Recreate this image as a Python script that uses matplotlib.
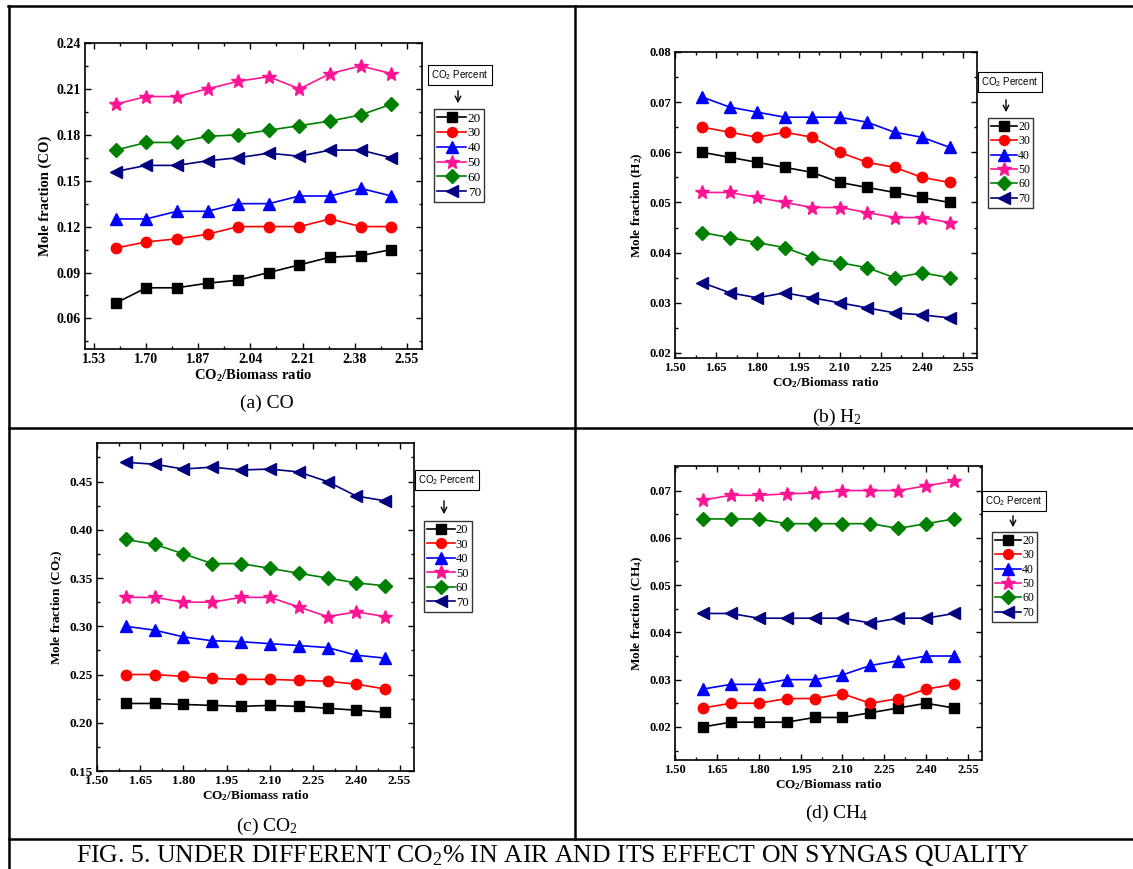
import matplotlib
matplotlib.use("Agg")
import matplotlib.pyplot as plt
from matplotlib.lines import Line2D
from matplotlib.ticker import AutoMinorLocator, FormatStrFormatter

plt.rcParams["font.family"] = ["Liberation Serif", "DejaVu Serif"]
plt.rcParams["mathtext.default"] = "regular"

W, H = 1133, 869

# ---- data ----
ratio = [1.6, 1.7, 1.8, 1.9, 2.0, 2.1, 2.2, 2.3, 2.4, 2.5]
co2_percent = ["20", "30", "40", "50", "60", "70"]

co = [
    [0.070, 0.080, 0.080, 0.083, 0.085, 0.090, 0.095, 0.100, 0.101, 0.105],
    [0.106, 0.110, 0.112, 0.115, 0.120, 0.120, 0.120, 0.125, 0.120, 0.120],
    [0.125, 0.125, 0.130, 0.130, 0.135, 0.135, 0.140, 0.140, 0.145, 0.140],
    [0.200, 0.205, 0.205, 0.210, 0.215, 0.218, 0.210, 0.220, 0.225, 0.220],
    [0.170, 0.175, 0.175, 0.179, 0.180, 0.183, 0.186, 0.189, 0.193, 0.200],
    [0.156, 0.160, 0.160, 0.163, 0.165, 0.168, 0.166, 0.170, 0.170, 0.165],
]
h2 = [
    [0.060, 0.059, 0.058, 0.057, 0.056, 0.054, 0.053, 0.052, 0.051, 0.050],
    [0.065, 0.064, 0.063, 0.064, 0.063, 0.060, 0.058, 0.057, 0.055, 0.054],
    [0.071, 0.069, 0.068, 0.067, 0.067, 0.067, 0.066, 0.064, 0.063, 0.061],
    [0.052, 0.052, 0.051, 0.050, 0.049, 0.049, 0.048, 0.047, 0.047, 0.046],
    [0.044, 0.043, 0.042, 0.041, 0.039, 0.038, 0.037, 0.035, 0.036, 0.035],
    [0.034, 0.032, 0.031, 0.032, 0.031, 0.030, 0.029, 0.028, 0.0276, 0.027],
]
co2 = [
    [0.220, 0.220, 0.219, 0.218, 0.217, 0.218, 0.217, 0.215, 0.213, 0.211],
    [0.250, 0.250, 0.248, 0.246, 0.245, 0.245, 0.244, 0.243, 0.240, 0.235],
    [0.300, 0.296, 0.289, 0.285, 0.284, 0.282, 0.280, 0.278, 0.270, 0.267],
    [0.330, 0.330, 0.325, 0.325, 0.330, 0.330, 0.320, 0.310, 0.315, 0.310],
    [0.390, 0.385, 0.375, 0.365, 0.365, 0.360, 0.355, 0.350, 0.345, 0.342],
    [0.470, 0.468, 0.463, 0.465, 0.462, 0.463, 0.460, 0.450, 0.435, 0.430],
]
ch4 = [
    [0.020, 0.021, 0.021, 0.021, 0.022, 0.022, 0.023, 0.024, 0.025, 0.024],
    [0.024, 0.025, 0.025, 0.026, 0.026, 0.027, 0.025, 0.026, 0.028, 0.029],
    [0.028, 0.029, 0.029, 0.030, 0.030, 0.031, 0.033, 0.034, 0.035, 0.035],
    [0.068, 0.069, 0.069, 0.0693, 0.0695, 0.070, 0.070, 0.070, 0.071, 0.072],
    [0.064, 0.064, 0.064, 0.063, 0.063, 0.063, 0.063, 0.062, 0.063, 0.064],
    [0.044, 0.044, 0.043, 0.043, 0.043, 0.043, 0.042, 0.043, 0.043, 0.044],
]

xticks_a = [1.53, 1.70, 1.87, 2.04, 2.21, 2.38, 2.55]
xticks_bcd = [1.50, 1.65, 1.80, 1.95, 2.10, 2.25, 2.40, 2.55]
yticks_a = [0.06, 0.09, 0.12, 0.15, 0.18, 0.21, 0.24]
yticks_b = [0.02, 0.03, 0.04, 0.05, 0.06, 0.07, 0.08]
yticks_c = [0.15, 0.20, 0.25, 0.30, 0.35, 0.40, 0.45]
yticks_d = [0.02, 0.03, 0.04, 0.05, 0.06, 0.07]

colors = ["black", "#FF0000", "#0000FF", "#FF1493", "#008000", "#000080"]
markers = ["s", "o", "^", "*", "D", "<"]
msizes = [7, 7.5, 8.5, 10.5, 7.5, 8.5]


def fx(x):
    return x / W


def fy(y):
    return 1 - y / H


def box(x0, y0, x1, y1):
    return [fx(x0), fy(y1), (x1 - x0) / W, (y1 - y0) / H]


fig = plt.figure(figsize=(W / 100, H / 100), dpi=100)

panels = [
    # data, axes box px, xticks, yticks, ylim, ylabel, tick size, label size,
    # legend top-left px, legend font, title box centre px, arrow px, caption
    (co, box(85, 43, 422, 349), xticks_a, yticks_a, (0.04, 0.24),
     "Mole fraction (CO)", 10, 10.5, (434, 109), 9.5, (460, 75), (458, 88, 106),
     (267, 403), "(a) CO"),
    (h2, box(675, 52, 977, 358), xticks_bcd, yticks_b, (0.019, 0.08),
     "Mole fraction (H$_2$)", 9, 9.5, (988, 118), 8.5, (1010, 82), (1006, 97, 115),
     (837, 417), "(b) H$_2$"),
    (co2, box(97, 443, 414, 771), xticks_bcd, yticks_c, (0.15, 0.49),
     "Mole fraction (CO$_2$)", 9.5, 9.5, (424, 521), 9, (447, 480), (444, 498, 517),
     (267, 826), "(c) CO$_2$"),
    (ch4, box(675, 466, 982, 760), xticks_bcd, yticks_d, (0.013, 0.0752),
     "Mole fraction (CH$_4$)", 9, 9.5, (992, 532), 8.5, (1014, 501), (1013, 513, 530),
     (837, 813), "(d) CH$_4$"),
]

for (data, rect, xt, yt, ylim, ylab, tsz, lsz, leg_xy, lfs, tb_xy, arr,
     cap_xy, cap) in panels:
    ax = fig.add_axes(rect)
    for i, series in enumerate(data):
        ax.plot(ratio, series, color=colors[i], marker=markers[i], ms=msizes[i],
                mec=colors[i], lw=1.2, label=co2_percent[i])
    ax.set_xlim(1.5, 2.6)
    ax.set_ylim(*ylim)
    ax.set_xticks(xt)
    ax.set_yticks(yt)
    ax.xaxis.set_major_formatter(FormatStrFormatter("%.2f"))
    ax.yaxis.set_major_formatter(FormatStrFormatter("%.2f"))
    ax.xaxis.set_minor_locator(AutoMinorLocator(2))
    ax.yaxis.set_minor_locator(AutoMinorLocator(2))
    ax.tick_params(which="both", direction="in", top=True, right=True, width=1)
    ax.tick_params(which="major", length=4, labelsize=tsz, pad=3)
    ax.tick_params(which="minor", length=2.5)
    for lab in ax.get_xticklabels() + ax.get_yticklabels():
        lab.set_fontweight("bold")
    for s in ax.spines.values():
        s.set_linewidth(1.2)
    ax.set_xlabel("CO$_2$/Biomass ratio", fontsize=lsz, fontweight="bold", labelpad=1)
    ax.set_ylabel(ylab, fontsize=lsz, fontweight="bold", labelpad=3)

    leg = ax.legend(loc="upper left", bbox_to_anchor=(fx(leg_xy[0]), fy(leg_xy[1])),
                    bbox_transform=fig.transFigure, borderaxespad=0, fontsize=lfs,
                    frameon=True, fancybox=False, edgecolor="black", numpoints=1,
                    handlelength=2.2, handletextpad=0.1, labelspacing=0.2,
                    borderpad=0.25, markerscale=0.95)
    leg.get_frame().set_linewidth(1.0)

    fig.text(fx(tb_xy[0]), fy(tb_xy[1]), "CO$_2$ Percent", ha="center", va="center",
             fontsize=7, family=["Liberation Sans", "DejaVu Sans"],
             bbox=dict(boxstyle="square,pad=0.35", fc="white", ec="black", lw=0.8))
    ax.annotate("", xy=(fx(arr[0]), fy(arr[2])), xytext=(fx(arr[0]), fy(arr[1])),
                xycoords="figure fraction", textcoords="figure fraction",
                arrowprops=dict(arrowstyle="->", color="black", lw=1.0))

    fig.text(fx(cap_xy[0]), fy(cap_xy[1]), cap, ha="center", va="center", fontsize=14)

fig.text(fx(553), fy(855),
         "FIG. 5. UNDER DIFFERENT CO$_2$% IN AIR AND ITS EFFECT ON SYNGAS QUALITY",
         ha="center", va="center", fontsize=18.5)

# table borders
for (x0, y0, x1, y1) in [(8, 6, W, 6), (9, 6, 9, H), (575, 6, 575, 839),
                         (9, 428, W, 428), (9, 839, W, 839)]:
    fig.add_artist(Line2D([fx(x0), fx(x1)], [fy(y0), fy(y1)], color="black",
                          lw=1.8, transform=fig.transFigure))

fig.savefig("out.png", dpi=100)
